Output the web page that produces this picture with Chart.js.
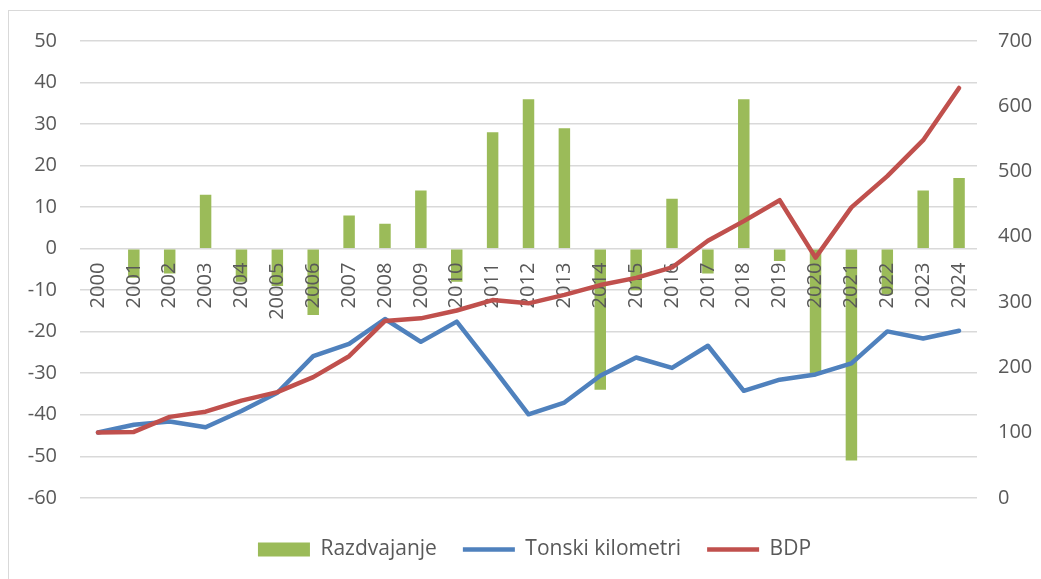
<!DOCTYPE html>
<html>
<head>
<meta charset="utf-8">
<script src="https://cdn.jsdelivr.net/npm/chart.js@4"></script>
<style>
  html, body { margin: 0; padding: 0; background: #fff; }
  #wrap { position: relative; width: 1041px; height: 579px; overflow: hidden; }
  #frame { position: absolute; left: 8px; top: 10px; width: 1100px; height: 620px; border: 1px solid #d9d9d9; }
  #chart { position: absolute; left: 0; top: 0; }
</style>
</head>
<body>
<div id="wrap">
  <div id="frame"></div>
  <canvas id="chart" width="1041" height="579"></canvas>
</div>
<script>
// godine (2005 je u izvornoj tablici upisana kao "20005")
const years = [
  "2000", "2001", "2002", "2003", "2004", "20005", "2006", "2007", "2008",
  "2009", "2010", "2011", "2012", "2013", "2014", "2015", "2016", "2017",
  "2018", "2019", "2020", "2021", "2022", "2023", "2024",
];

// razdvajanje (lijeva os)
const razdvajanje = [
  0, -7, -6, 13, -8, -9, -16, 8, 6, 14, -8, 28, 36, 29, -34, -10, 12, -6,
  36, -3, -30, -51, -11, 14, 17,
];

// indeksi, 2000 = 100 (desna os)
const tonskiKm = [
  100, 112, 117, 108, 133, 161, 217, 236, 274, 239, 270, 200, 128, 146, 187,
  215, 199, 233, 164, 181, 189, 206, 255, 244, 256,
];
const bdp = [
  100, 101, 124, 132, 149, 162, 185, 217, 271, 275, 287, 303, 298, 311, 326,
  337, 353, 394, 424, 456, 368, 445, 493, 548, 628,
];

const leftTicks = { min: -60, max: 50, step: 10 };
const rightTicks = { min: 0, max: 700, step: 100 };

const TEXT = "#595959";
const GRID = "#d9d9d9";
const FONT = "'Open Sans', 'Liberation Sans', sans-serif";

// oznake godina crtaju se iznad stupaca, a ispod linija
const labelsBetween = {
  id: "labelsBetween",
  beforeDraw(chart) {
    const xs = chart.scales.x;
    if (!xs._drawLabelsOrig) {
      xs._drawLabelsOrig = xs.drawLabels;
      xs.drawLabels = function () {};
    }
  },
  afterDatasetDraw(chart, args) {
    if (args.meta.type === "bar") {
      const xs = chart.scales.x;
      xs._drawLabelsOrig.call(xs, chart.chartArea);
    }
  },
};

new Chart(document.getElementById("chart"), {
  data: {
    labels: years,
    datasets: [
      {
        type: "bar",
        label: "Razdvajanje",
        data: razdvajanje,
        yAxisID: "y",
        backgroundColor: "#9bbb59",
        borderWidth: 0,
        categoryPercentage: 1,
        barPercentage: 0.32,
        pointStyle: "rect",
        order: 3,
      },
      {
        type: "line",
        label: "Tonski kilometri",
        data: tonskiKm,
        yAxisID: "y1",
        borderColor: "#4f81bd",
        backgroundColor: "#4f81bd",
        borderWidth: 4.5,
        borderJoinStyle: "round",
        borderCapStyle: "round",
        pointRadius: 0,
        pointHoverRadius: 0,
        pointBorderWidth: 4.5,
        pointBorderColor: "#4f81bd",
        pointStyle: "line",
        tension: 0,
        order: 2,
      },
      {
        type: "line",
        label: "BDP",
        data: bdp,
        yAxisID: "y1",
        borderColor: "#c0504d",
        backgroundColor: "#c0504d",
        borderWidth: 4.5,
        borderJoinStyle: "round",
        borderCapStyle: "round",
        pointRadius: 0,
        pointHoverRadius: 0,
        pointBorderWidth: 4.5,
        pointBorderColor: "#c0504d",
        pointStyle: "line",
        tension: 0,
        order: 1,
      },
    ],
  },
  options: {
    responsive: false,
    animation: false,
    devicePixelRatio: 1,
    layout: { padding: { top: 41, bottom: 9, left: 28, right: 0 } },
    plugins: {
      tooltip: { enabled: false },
      legend: {
        position: "bottom",
        // prazan naslov samo za razmak iznad legende
        title: { display: true, text: "", font: { size: 1 }, padding: { top: 14, bottom: 0 } },
        labels: {
          usePointStyle: true,
          pointStyleWidth: 52,
          boxHeight: 14,
          padding: 26,
          color: TEXT,
          font: { family: FONT, size: 21 },
          sort: (a, b) => a.datasetIndex - b.datasetIndex,
        },
      },
    },
    scales: {
      x: {
        position: { y: 0 },
        offset: true,
        grid: { display: false, drawTicks: false },
        border: { display: false },
        ticks: {
          autoSkip: false,
          maxRotation: 90,
          minRotation: 90,
          padding: 14,
          color: TEXT,
          font: { family: FONT, size: 20 },
        },
      },
      y: {
        position: "left",
        min: leftTicks.min,
        max: leftTicks.max,
        afterFit: (s) => { s.width = 52; },
        grid: { color: GRID, lineWidth: 1.5, drawTicks: false },
        border: { display: false },
        ticks: {
          stepSize: leftTicks.step,
          padding: 23,
          color: TEXT,
          font: { family: FONT, size: 20 },
        },
      },
      y1: {
        position: "right",
        min: rightTicks.min,
        max: rightTicks.max,
        afterFit: (s) => { s.width = 64; },
        grid: { drawOnChartArea: false, drawTicks: false },
        border: { display: false },
        ticks: {
          stepSize: rightTicks.step,
          padding: 21,
          color: TEXT,
          font: { family: FONT, size: 20 },
        },
      },
    },
  },
  plugins: [labelsBetween],
});
</script>
</body>
</html>
